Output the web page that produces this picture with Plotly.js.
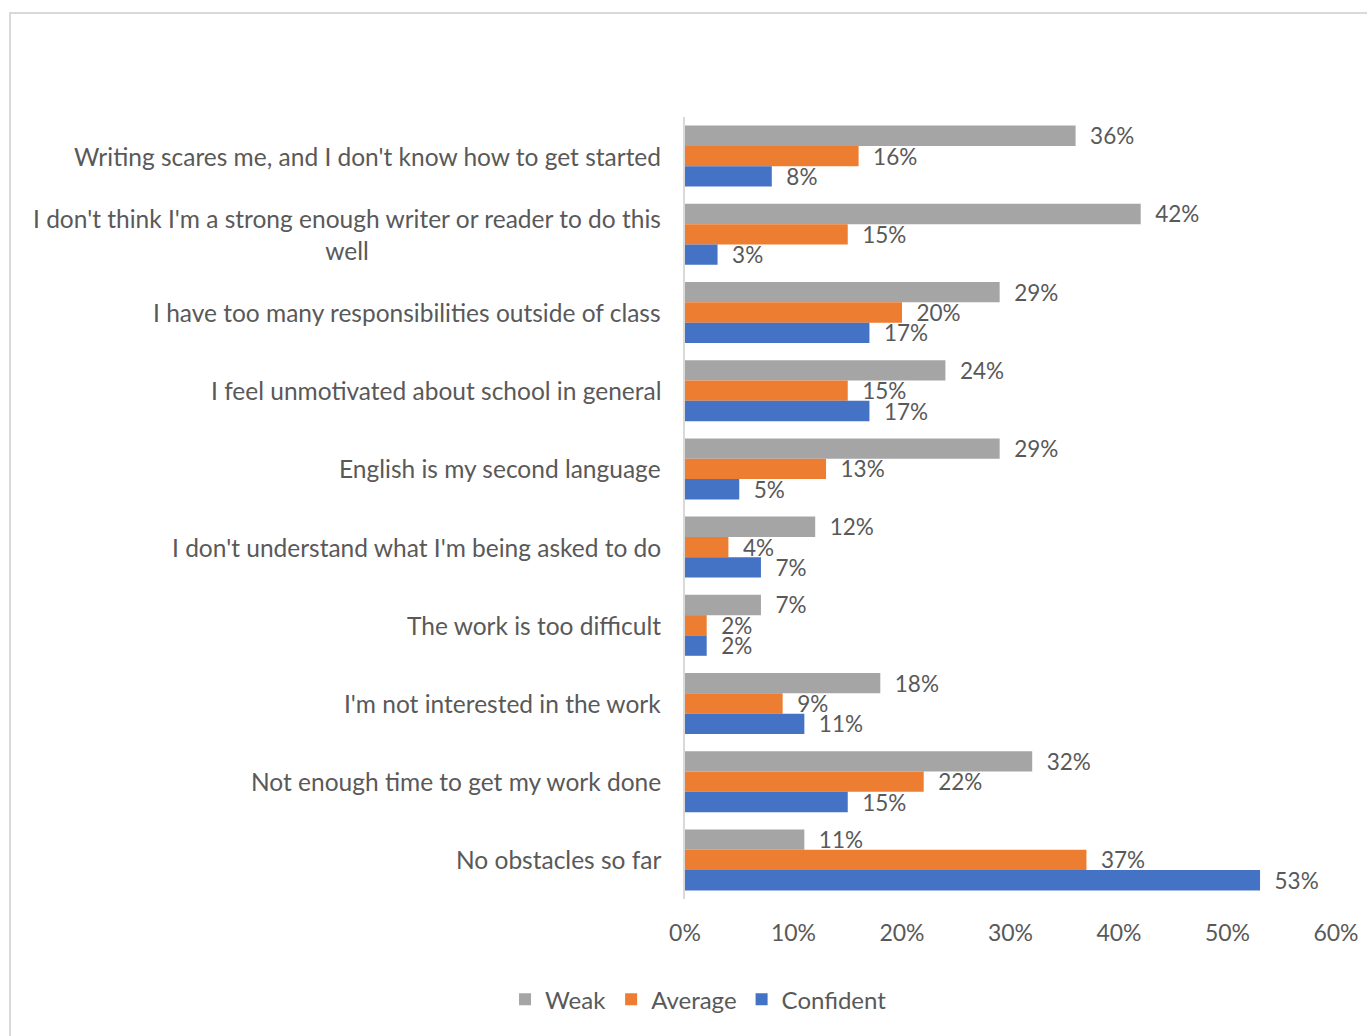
<!DOCTYPE html>
<html>
<head>
<meta charset="utf-8">
<script src="https://cdn.plot.ly/plotly-3.0.1.min.js"></script>
<style>
  html, body { margin: 0; padding: 0; background: #ffffff; }
  #chart { width: 1367px; height: 1036px; position: relative; }
  #frame { position: absolute; left: 9px; top: 12px; width: 1400px; height: 1100px;
           border: 2px solid #d9d9d9; pointer-events: none; box-sizing: border-box; }
</style>
</head>
<body>
<div id="chart"></div>
<div id="frame"></div>
<script>
const categories = [
  "Writing scares me, and I don't know how to get started",
  "I don't think I'm a strong enough writer or reader to do this well",
  "I have too many responsibilities outside of class",
  "I feel unmotivated about school in general",
  "English is my second language",
  "I don't understand what I'm being asked to do",
  "The work is too difficult",
  "I'm not interested in the work",
  "Not enough time to get my work done",
  "No obstacles so far"
];
const categoryLabels = [
  "Writing scares me, and I don't know how to get started",
  "I don't think I'm a strong enough writer or reader to do this<br>well",
  "I have too many responsibilities outside of class",
  "I feel unmotivated about school in general",
  "English is my second language",
  "I don't understand what I'm being asked to do",
  "The work is too difficult",
  "I'm not interested in the work",
  "Not enough time to get my work done",
  "No obstacles so far"
];
const weak      = [36, 42, 29, 24, 29, 12, 7, 18, 32, 11];
const average   = [16, 15, 20, 15, 13, 4, 2, 9, 22, 37];
const confident = [8, 3, 17, 17, 5, 7, 2, 11, 15, 53];
const seriesNames = ["Weak", "Average", "Confident"];
const xTickVals = [0, 10, 20, 30, 40, 50, 60];
const xTickText = ["0%", "10%", "20%", "30%", "40%", "50%", "60%"];

const FONT = "Lato, 'Open Sans', sans-serif";
const TXT = "#595959";
const colors = ["#A5A5A5", "#ED7D31", "#4472C4"];
const seriesData = [weak, average, confident];

const traces = seriesData.map((vals, i) => ({
  type: "bar",
  orientation: "h",
  name: seriesNames[i],
  y: categories,
  x: vals,
  marker: { color: colors[i] },
  text: vals.map(v => "\u00a0\u00a0" + v + "%"),
  texttemplate: "%{text}",
  textposition: "outside",
  constraintext: "none",
  cliponaxis: false,
  textfont: { family: FONT, size: 22.5, color: TXT },
  hoverinfo: "skip"
}));

const annotations = categories.map((c, i) => ({
  xref: "paper", yref: "y",
  x: 0, y: c,
  xanchor: "right", yanchor: "middle",
  xshift: -22,
  align: "center",
  showarrow: false,
  text: categoryLabels[i],
  font: { family: FONT, size: 24.5, color: TXT }
}));

const layout = {
  width: 1367, height: 1036,
  margin: { l: 685, r: 31, t: 117, b: 137, pad: 0 },
  paper_bgcolor: "#ffffff",
  plot_bgcolor: "#ffffff",
  barmode: "group",
  bargap: 0.22,
  bargroupgap: 0,
  showlegend: true,
  legend: {
    orientation: "h",
    xref: "container", yref: "container",
    x: 0.511, y: 0.035,
    xanchor: "center", yanchor: "middle",
    font: { family: FONT, size: 24, color: TXT },
    itemwidth: 30,
    traceorder: "normal"
  },
  xaxis: {
    range: [0, 60],
    tickvals: xTickVals,
    ticktext: xTickText,
    showgrid: false,
    zeroline: false,
    showline: false,
    ticks: "",
    ticklabelstandoff: 18,
    tickfont: { family: FONT, size: 23, color: TXT },
    fixedrange: true
  },
  yaxis: {
    type: "category",
    categoryorder: "array",
    categoryarray: categories,
    autorange: "reversed",
    showticklabels: false,
    showgrid: false,
    zeroline: false,
    showline: true,
    linecolor: "#d9d9d9",
    linewidth: 2,
    ticks: "",
    fixedrange: true
  },
  annotations: annotations,
  font: { family: FONT, color: TXT }
};

Plotly.newPlot("chart", traces, layout, { displayModeBar: false, staticPlot: true });
</script>
</body>
</html>
